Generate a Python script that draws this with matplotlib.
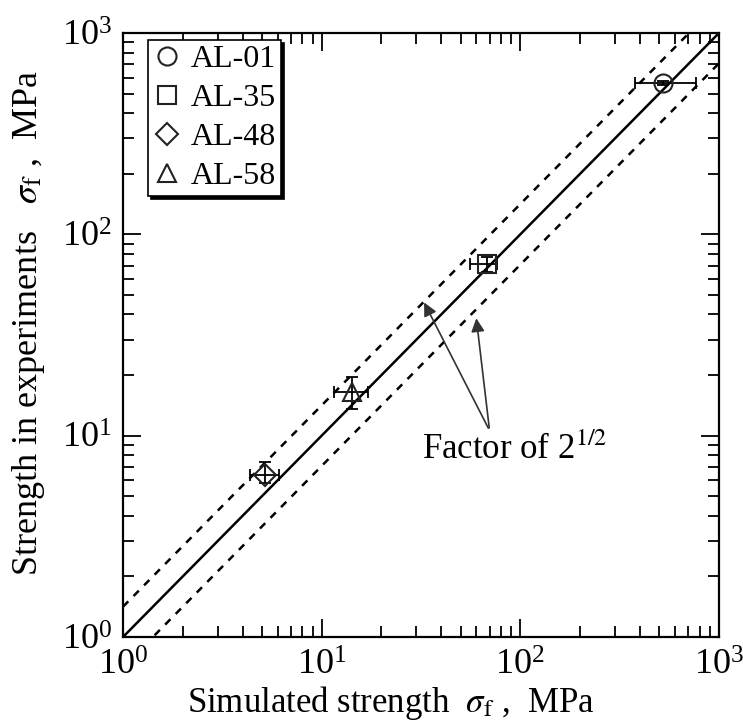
import matplotlib
matplotlib.use("Agg")
import matplotlib.pyplot as plt
import numpy as np

plt.rcParams['font.family'] = ['Liberation Serif', 'DejaVu Serif']
plt.rcParams['mathtext.fontset'] = 'stix'

labels = ['AL-01', 'AL-35', 'AL-48', 'AL-58']
markers = ['o', 's', 'D', '^']
sim = [522, 68, 5.2, 14.2]
exp = [565, 71, 6.4, 16.5]
sim_lo = [145, 12, 0.85, 2.7]
sim_hi = [240, 8, 0.9, 2.9]
exp_lo = [15, 6, 0.6, 3.0]
exp_hi = [15, 6, 1.0, 3.1]
factor = np.sqrt(2)

fig = plt.figure(figsize=(7.43, 7.26), dpi=100)
ax = fig.add_axes([123/743, 1-637/726, 596/743, 604/726])

xl = np.array([1, 1000])
ax.plot(xl, xl, color='black', lw=1.8, zorder=2)
ax.plot(xl, xl * factor, color='black', lw=1.8, ls=(0, (3, 3)), zorder=2)
ax.plot(xl, xl / factor, color='black', lw=1.8, ls=(0, (3, 3)), zorder=2)

for i in range(len(labels)):
    ms = 13 if markers[i] != 'D' else 11
    ax.errorbar(sim[i], exp[i],
                xerr=[[sim_lo[i]], [sim_hi[i]]],
                yerr=[[exp_lo[i]], [exp_hi[i]]],
                fmt='none', ecolor='black', elinewidth=1.3, capsize=4, capthick=1.3, zorder=3)
    ax.plot(sim[i], exp[i], marker=markers[i], ms=ms, mfc='none', mec='#222222',
            mew=1.5, ls='none', label=labels[i], zorder=4)

ax.set_xscale('log')
ax.set_yscale('log')
ax.set_xlim(1, 1000)
ax.set_ylim(1, 1000)

ax.tick_params(which='both', direction='in', top=True, right=True, labelsize=26, width=1.3)
ax.tick_params(which='major', length=13, pad=6)
ax.tick_params(which='minor', length=8)
ax.tick_params(axis='x', which='major', pad=9)
ax.tick_params(axis='y', which='major', pad=8)
for s in ax.spines.values():
    s.set_linewidth(1.6)

ax.set_xlabel(r'Simulated strength  $\sigma_{\rm f}$ ,  MPa', fontsize=25)
ax.xaxis.set_label_coords(0.45, -0.078)
ax.set_ylabel(r'Strength in experiments   $\sigma_{\rm f}$ ,  MPa', fontsize=26)
ax.yaxis.set_label_coords(-0.128, 0.52)

ax.annotate('', xy=(32.3, 47.2), xytext=(70, 10.6),
            arrowprops=dict(arrowstyle='-|>', color='#333333', lw=1.2, mutation_scale=20))
ax.annotate('', xy=(59.8, 39.5), xytext=(70, 10.6),
            arrowprops=dict(arrowstyle='-|>', color='#333333', lw=1.2, mutation_scale=20))
ax.text(32, 8.5, r'Factor of 2$^{1/2}$', fontsize=25, ha='left', va='center')

leg = ax.legend(loc='upper left', bbox_to_anchor=(0.042, 0.988), fontsize=23, frameon=True,
                fancybox=False, edgecolor='black', framealpha=1,
                shadow={'color': 'black', 'alpha': 1}, handletextpad=0.3,
                borderpad=0.15, labelspacing=0.3, handlelength=0.9, borderaxespad=0.0)
leg.get_frame().set_linewidth(1.2)

fig.savefig('out.png', dpi=100)
